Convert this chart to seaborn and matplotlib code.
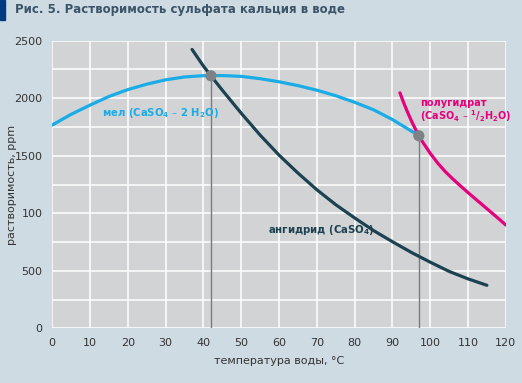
import seaborn as sns
import matplotlib.pyplot as plt
import pandas as pd

# gypsum (мел)
gyps_t = [0, 5, 10, 15, 20, 25, 30, 35, 40, 45, 50, 55, 60, 65, 70, 75, 80, 85, 90, 95, 97]
gyps_ppm = [1767, 1860, 1940, 2015, 2075, 2122, 2160, 2185, 2196, 2197, 2190, 2170, 2143,
            2110, 2070, 2022, 1965, 1900, 1815, 1715, 1674]

# anhydrite
anh_t = [37, 40, 42, 45, 50, 55, 60, 65, 70, 75, 80, 85, 90, 95, 100, 105, 110, 115]
anh_ppm = [2424, 2280, 2195, 2070, 1870, 1680, 1506, 1350, 1205, 1075, 960, 850, 753,
           660, 575, 495, 430, 374]

# hemihydrate
hemi_t = [92, 93, 94, 95, 96, 97, 98, 100, 102, 104, 106, 108, 110, 112, 114, 116, 118, 120]
hemi_ppm = [2047, 1960, 1880, 1806, 1738, 1674, 1620, 1522, 1436, 1362, 1298, 1238, 1180,
            1124, 1068, 1012, 956, 898]

# transition points
cross_t = [42, 97]
cross_ppm = [2195, 1674]

x_ticks = list(range(0, 121, 10))
y_ticks = [0, 500, 1000, 1500, 2000, 2500]
y_tick_labels = ['0', '500', '100', '1500', '2000', '2500']

sns.set_style('whitegrid')
plt.rcParams['font.family'] = ['Liberation Sans Narrow', 'DejaVu Sans Condensed', 'DejaVu Sans']

fig = plt.figure(figsize=(5.22, 3.83), dpi=100, facecolor='#cfdbe3')
ax = fig.add_axes([0.1, 0.1428, 0.8689, 0.7509])
ax.set_facecolor('#d2d3d5')

df_g = pd.DataFrame({'t': gyps_t, 'ppm': gyps_ppm})
df_a = pd.DataFrame({'t': anh_t, 'ppm': anh_ppm})
df_h = pd.DataFrame({'t': hemi_t, 'ppm': hemi_ppm})

for t, p in zip(cross_t, cross_ppm):
    ax.plot([t, t], [0, p], color='#7a7d80', lw=1, zorder=2)

sns.lineplot(data=df_g, x='t', y='ppm', color='#1aace6', lw=2.3, ax=ax, zorder=3)
sns.lineplot(data=df_a, x='t', y='ppm', color='#1c4251', lw=2.3, ax=ax, zorder=3)
sns.lineplot(data=df_h, x='t', y='ppm', color='#e5007d', lw=2.3, ax=ax, zorder=3)
sns.scatterplot(x=cross_t, y=cross_ppm, color='#7d8287', s=65, edgecolor='none', ax=ax, zorder=4)

ax.set_xlim(0, 120)
ax.set_ylim(0, 2500)
ax.set_xticks(x_ticks)
grid_y = list(range(0, 2501, 250))
ax.set_yticks(grid_y)
ax.set_yticklabels([y_tick_labels[y_ticks.index(v)] if v in y_ticks else '' for v in grid_y])
ax.grid(True, color='white', lw=1.1)
ax.set_axisbelow(True)
for s in ax.spines.values():
    s.set_visible(False)
ax.tick_params(length=0, labelsize=8, colors='#333333', pad=7)

ax.set_xlabel('температура воды, °С', fontsize=8, color='#333333', labelpad=6)
ax.set_ylabel('растворимость, ppm', fontsize=8, color='#333333')
ax.yaxis.set_label_coords(-0.078, 0.5)

ax.text(13.1, 1868, r'мел (CaSO$\mathregular{_4}$ – 2 H$\mathregular{_2}$O)', color='#1aace6',
        fontsize=7.3, fontweight='bold', va='center')
ax.text(57.1, 854, r'ангидрид (CaSO$\mathregular{_4}$)', color='#1c4251',
        fontsize=7.3, fontweight='bold', va='center')
ax.text(97.3, 1890, 'полугидрат\n' + r'(CaSO$\mathregular{_4}$ – $\mathregular{^1/_2}$H$\mathregular{_2}$O)',
        color='#e5007d', fontsize=7, fontweight='bold', va='center', linespacing=1.0)

fig.patches.append(plt.Rectangle((0, 0.948), 0.0105, 0.052, transform=fig.transFigure,
                                 color='#003a80', zorder=5))
fig.text(0.028, 0.974, 'Рис. 5. Растворимость сульфата кальция в воде', fontsize=8.5,
         fontweight='bold', color='#3b5468', va='center')

fig.savefig('out.png', dpi=100, facecolor=fig.get_facecolor())
